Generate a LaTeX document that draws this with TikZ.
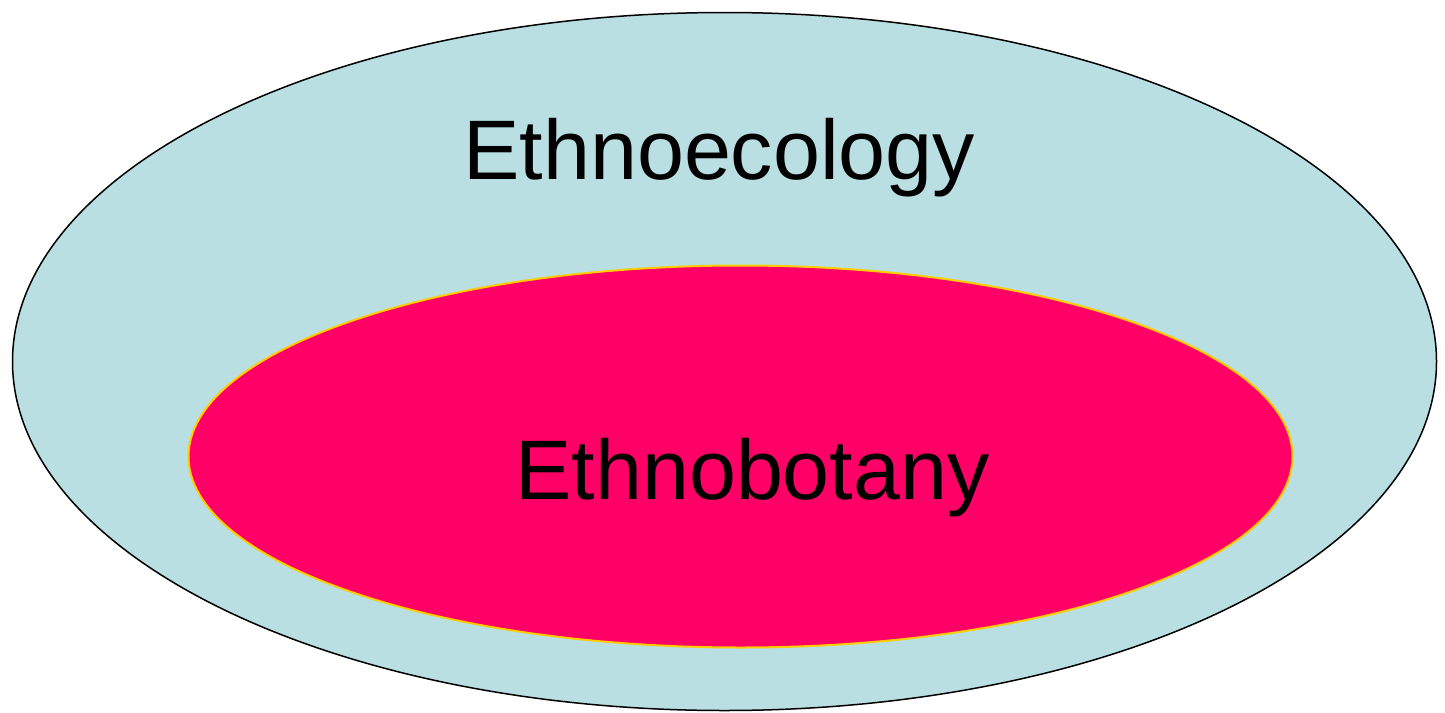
\documentclass[tikz,border=0pt]{standalone}
\usepackage{fontspec}
\setmainfont{Liberation Sans}
\definecolor{outerfill}{HTML}{B9DFE3}
\definecolor{innerfill}{HTML}{FF0066}
\definecolor{innerline}{HTML}{FFCC00}
\begin{document}
\begin{tikzpicture}[x=1pt,y=-1pt,
  lbl/.style={anchor=base west,inner sep=0pt,font=\fontsize{84.5}{90}\selectfont}]
\useasboundingbox (0,0) rectangle (1445,712);
\draw[fill=outerfill,draw=black,line width=1.5pt] (724.5,361.5) ellipse [x radius=712,y radius=349];
\draw[fill=innerfill,draw=innerline,line width=2pt] (740.5,456.5) ellipse [x radius=552,y radius=191];
\node[lbl] (eco) at (463,179) {Ethnoecology};
\node[lbl] (bot) at (515,499) {Ethnobotany};
\end{tikzpicture}
\end{document}
